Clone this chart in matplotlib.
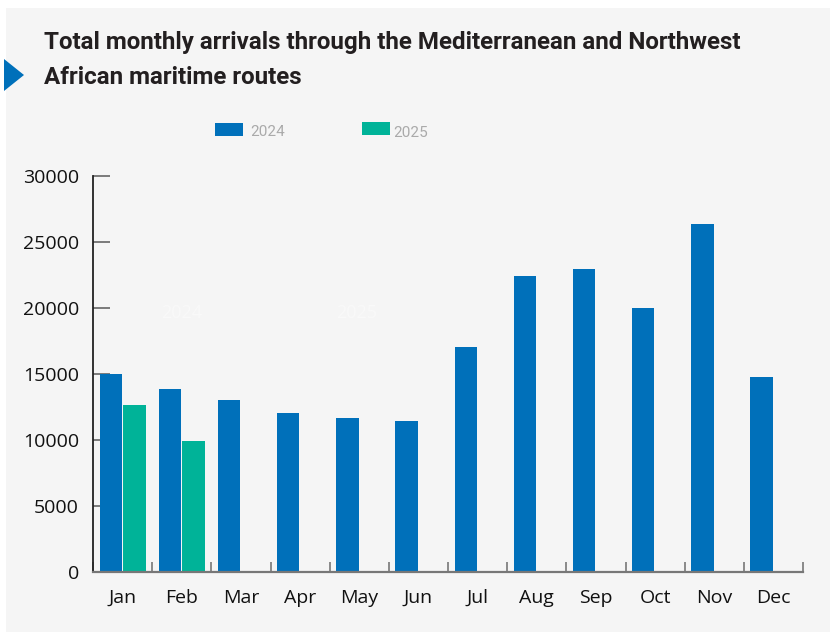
import matplotlib
matplotlib.use("Agg")
import matplotlib.pyplot as plt
from matplotlib.patches import Rectangle, Polygon
import numpy as np

months = ["Jan", "Feb", "Mar", "Apr", "May", "Jun", "Jul", "Aug", "Sep", "Oct", "Nov", "Dec"]
arrivals_2024 = [14980, 13840, 13010, 12020, 11640, 11420, 17020, 22400, 22930, 19980, 26340, 14750]
arrivals_2025 = [12630, 9900]
series_labels = ["2024", "2025"]
yticks = [0, 5000, 10000, 15000, 20000, 25000, 30000]

BLUE = "#0070BA"
GREEN = "#00B398"
BG = "#F5F5F5"

W, H = 830, 632
fig = plt.figure(figsize=(W / 100, H / 100), dpi=100)
fig.patch.set_facecolor("white")

# background panel
fig.patches.append(Rectangle((6 / W, 0), 1 - 6 / W, 1 - 8 / H, transform=fig.transFigure,
                             facecolor=BG, edgecolor="none", zorder=-10))
# blue triangle marker
fig.patches.append(Polygon([(4 / W, 1 - 59 / H), (24 / W, 1 - 75 / H), (4 / W, 1 - 91 / H)],
                           closed=True, transform=fig.transFigure, facecolor=BLUE,
                           edgecolor="none", zorder=-5))

title_font = dict(family=["Roboto", "DejaVu Sans"], fontweight="bold", fontsize=17.4, color="#231F20")
fig.text(44 / W, 1 - 49 / H, "Total monthly arrivals through the Mediterranean and Northwest",
         ha="left", va="baseline", **title_font)
fig.text(44 / W, 1 - 84 / H, "African maritime routes", ha="left", va="baseline", **title_font)

# legend
fig.patches.append(Rectangle((215 / W, 1 - 136 / H), 28 / W, 13 / H, transform=fig.transFigure,
                             facecolor=BLUE, edgecolor="none", zorder=-5))
fig.patches.append(Rectangle((362 / W, 1 - 135 / H), 28 / W, 13 / H, transform=fig.transFigure,
                             facecolor=GREEN, edgecolor="none", zorder=-5))
leg_font = dict(family=["Roboto", "DejaVu Sans"], fontsize=11, color="#AAAAAA")
fig.text(250 / W, 1 - 136 / H, series_labels[0], ha="left", va="baseline", **leg_font)
fig.text(393 / W, 1 - 137 / H, series_labels[1], ha="left", va="baseline", **leg_font)

left, right = 93, 803
bottom, top = 572, 175.7
ax = fig.add_axes([left / W, 1 - bottom / H, (right - left) / W, (bottom - top) / H])
ax.set_facecolor("none")
ax.set_zorder(5)

x = np.arange(len(months))
bw = 0.375
off = 0.2
ax.bar(x - off, arrivals_2024, width=bw, color=BLUE, zorder=2)
ax.bar(np.arange(len(arrivals_2025)) + off, arrivals_2025, width=bw, color=GREEN, zorder=2)

ax.set_xlim(-0.5, len(months) - 0.5)
ax.set_ylim(0, 30000)

for s in ["top", "right"]:
    ax.spines[s].set_visible(False)
ax.spines["left"].set_color("#222222")
ax.spines["left"].set_linewidth(1.3)
ax.spines["bottom"].set_color("#777777")
ax.spines["bottom"].set_linewidth(1.6)
ax.spines["bottom"].set_zorder(3)

ax.set_yticks(yticks)
ax.set_yticklabels([str(v) for v in yticks])
ax.set_xticks(np.arange(len(months) + 1) - 0.5)
ax.set_xticklabels([])
ax.set_xticks(x, minor=True)
ax.set_xticklabels(months, minor=True)

tick_font = ["Open Sans", "DejaVu Sans"]
ax.tick_params(axis="y", direction="in", length=12, width=1.2, color="#666666", pad=10,
               labelsize=14, labelcolor="#111111")
ax.tick_params(axis="x", which="major", direction="in", length=7, width=1.2, color="#777777")
ax.tick_params(axis="x", which="minor", length=0, pad=12, labelsize=14, labelcolor="#111111")
for lab in ax.get_yticklabels() + ax.get_xticklabels(minor=True):
    lab.set_family(tick_font)

# faint hidden labels present in the original
ax.text(1.0, 19600, "2024", ha="center", va="center", fontsize=13, color="#F9F9F9",
        family=tick_font, zorder=1)
ax.text(3.95, 19600, "2025", ha="center", va="center", fontsize=13, color="#F9F9F9",
        family=tick_font, zorder=1)

fig.savefig("out.png", dpi=100, facecolor=fig.get_facecolor())
